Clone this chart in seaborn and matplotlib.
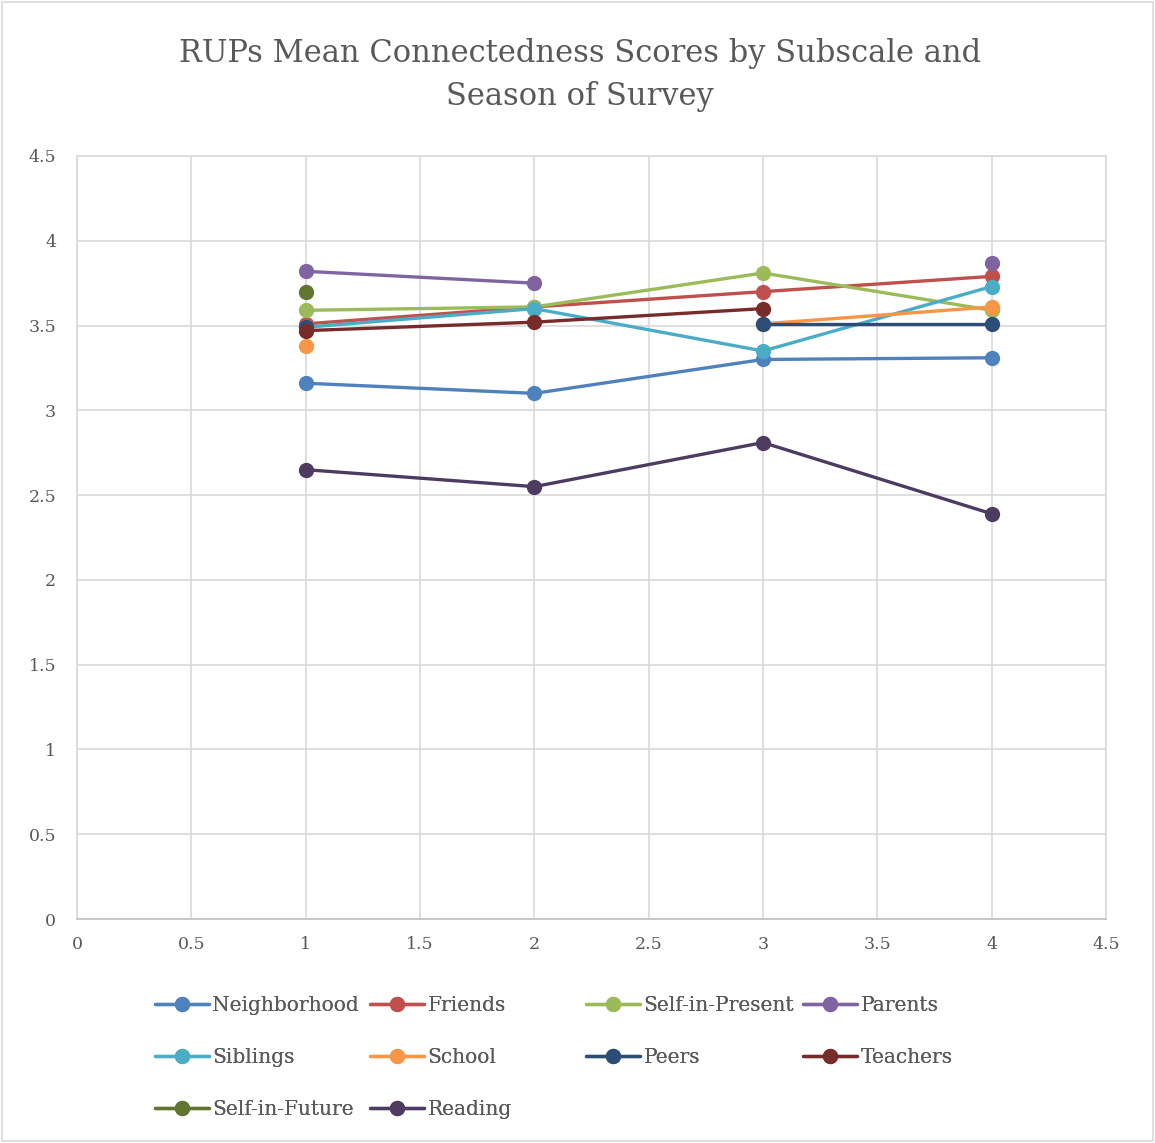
import numpy as np
import pandas as pd
import matplotlib
matplotlib.use("Agg")
import matplotlib.pyplot as plt
from matplotlib.patches import Rectangle
import seaborn as sns

# Season of survey (1-4) and mean connectedness scores per subscale (None = not measured)
seasons = [1, 2, 3, 4]
neighborhood = [3.16, 3.10, 3.30, 3.31]
friends = [3.51, 3.61, 3.70, 3.79]
self_in_present = [3.59, 3.61, 3.81, 3.59]
parents = [3.82, 3.75, None, 3.87]
siblings = [3.49, 3.60, 3.35, 3.73]
school = [3.38, None, 3.51, 3.61]
peers = [3.49, None, 3.51, 3.51]
teachers = [3.47, 3.52, 3.60, None]
self_in_future = [3.70, None, None, None]
reading = [2.65, 2.55, 2.81, 2.39]

subscales = ["Neighborhood", "Friends", "Self-in-Present", "Parents", "Siblings",
             "School", "Peers", "Teachers", "Self-in-Future", "Reading"]
values = [neighborhood, friends, self_in_present, parents, siblings,
          school, peers, teachers, self_in_future, reading]
colors = ["#4F81BD", "#C0504D", "#9BBB59", "#8064A2", "#4BACC6",
          "#F79646", "#2C4D75", "#772C2A", "#5F7530", "#4D3B62"]

# Long table; a new segment starts after every missing season so lines break at gaps
rows = []
for name, vals in zip(subscales, values):
    seg = 0
    for s, v in zip(seasons, vals):
        if v is None:
            seg += 1
            continue
        rows.append({"season": s, "score": v, "subscale": name, "segment": f"{name}-{seg}"})
df = pd.DataFrame(rows)

sns.set_theme(style="white")
plt.rcParams["font.family"] = ["DejaVu Serif"]
text_gray = "#595959"
grid_gray = "#D9D9D9"

fig = plt.figure(figsize=(11.55, 11.43), dpi=100)
ax = fig.add_axes([77 / 1155, 1 - 919 / 1143, (1106 - 77) / 1155, (919 - 156) / 1143])

sns.lineplot(data=df, x="season", y="score", hue="subscale", units="segment",
             estimator=None, hue_order=subscales, palette=colors, marker="o",
             markersize=11, markeredgewidth=0, linewidth=2.4, ax=ax, sort=True)

ax.set_xlim(0, 4.5)
ax.set_ylim(0, 4.5)
ticks = np.arange(0, 4.51, 0.5)
labels = [f"{t:g}" for t in ticks]
ax.set_xticks(ticks)
ax.set_xticklabels(labels)
ax.set_yticks(ticks)
ax.set_yticklabels(labels)
ax.tick_params(axis="both", length=0, labelsize=12.5, labelcolor=text_gray)
ax.tick_params(axis="y", pad=15)
ax.tick_params(axis="x", pad=12)
ax.grid(True, color=grid_gray, linewidth=1.2)
ax.set_axisbelow(True)
for side, sp in ax.spines.items():
    sp.set_color(grid_gray)
    sp.set_linewidth(1.2)
ax.spines["bottom"].set_color("#BFBFBF")
ax.set_xlabel("")
ax.set_ylabel("")

fig.text(0.502, 1 - 75 / 1143, "RUPs Mean Connectedness Scores by Subscale and\nSeason of Survey",
         ha="center", va="center", fontsize=22, color=text_gray, linespacing=1.5)

# Legend: four fixed-position columns, filled row by row
handles, lbls = ax.get_legend_handles_labels()
lookup = dict(zip(lbls, handles))
ax.get_legend().remove()
columns = [["Neighborhood", "Siblings", "Self-in-Future"],
           ["Friends", "School", "Reading"],
           ["Self-in-Present", "Peers"],
           ["Parents", "Teachers"]]
col_x = [155, 370, 586, 803]
for names, x0 in zip(columns, col_x):
    leg = fig.legend([lookup[k] for k in names], names, loc="upper left",
                     bbox_to_anchor=(x0 / 1155, 1 - 996 / 1143), frameon=False,
                     fontsize=14.5, labelcolor=text_gray, handlelength=2.7,
                     handletextpad=0.15, labelspacing=1.65, borderaxespad=0,
                     borderpad=0)
    fig.add_artist(leg)

fig.add_artist(Rectangle((0.002, 0.002), 0.996, 0.996, transform=fig.transFigure,
                         fill=False, edgecolor=grid_gray, linewidth=1.2))

fig.savefig("out.png", dpi=100)
